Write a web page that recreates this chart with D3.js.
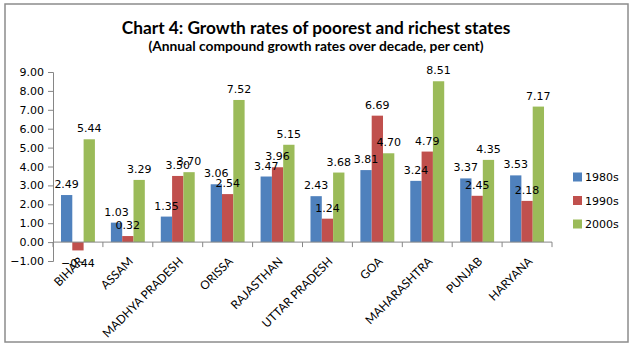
<!DOCTYPE html>
<html><head><meta charset="utf-8">
<script src="https://cdn.jsdelivr.net/npm/d3@7"></script>
<style>body{margin:0;background:#fff}svg{display:block}</style>
</head><body>
<script>
const categories = ["BIHAR","ASSAM","MADHYA PRADESH","ORISSA","RAJASTHAN","UTTAR PRADESH","GOA","MAHARASHTRA","PUNJAB","HARYANA"];
const seriesNames = ["1980s","1990s","2000s"];
const s1980 = [2.49,1.03,1.35,3.06,3.47,2.43,3.81,3.24,3.37,3.53];
const s1990 = [-0.44,0.32,3.50,2.54,3.96,1.24,6.69,4.79,2.45,2.18];
const s2000 = [5.44,3.29,3.70,7.52,5.15,3.68,4.70,8.51,4.35,7.17];
const yTicks = [-1,0,1,2,3,4,5,6,7,8,9];
const colors = ["#4F81BD","#C0504D","#9BBB59"];
const series = [s1980, s1990, s2000];

const W = 633, H = 347;
const svg = d3.select("body").append("svg").attr("width", W).attr("height", H);
svg.append("rect").attr("x",5).attr("y",4).attr("width",623).attr("height",338)
  .attr("fill","#fff").attr("stroke","#8c8c8c").attr("stroke-width",1.5);

svg.append("text").attr("x",316).attr("y",34).attr("text-anchor","middle")
  .attr("font-family","Lato").attr("font-weight","bold").attr("font-size",17.3)
  .text("Chart 4: Growth rates of poorest and richest states");
svg.append("text").attr("x",316).attr("y",51).attr("text-anchor","middle")
  .attr("font-family","Lato").attr("font-weight","bold").attr("font-size",13.8)
  .text("(Annual compound growth rates over decade, per cent)");

const x0 = d3.scaleBand().domain(categories).range([53,552]).paddingInner(0.32).paddingOuter(0.16);
const x1 = d3.scaleBand().domain(seriesNames).range([0, x0.bandwidth()]);
const y = d3.scaleLinear().domain([-1,9]).range([261,72]);

// y axis
const yAxis = d3.axisLeft(y).tickValues(yTicks).tickFormat(d3.format(".2f")).tickSize(5).tickPadding(4);
const gy = svg.append("g").attr("transform","translate(53,0)").call(yAxis);
gy.selectAll("path,line").attr("stroke","#868686");
gy.selectAll("text").attr("font-family","DejaVu Sans").attr("font-size",11).attr("fill","#000");

// bars
categories.forEach((c,i)=>{
  series.forEach((s,k)=>{
    const v = s[i];
    svg.append("rect").attr("x", x0(c)+x1(seriesNames[k])).attr("width", x1.bandwidth())
      .attr("y", y(Math.max(0,v))).attr("height", Math.abs(y(v)-y(0))).attr("fill", colors[k]);
  });
});

// x axis at zero
const full = d3.scaleBand().domain(categories).range([53,552]);
svg.append("line").attr("x1",53).attr("x2",552).attr("y1",y(0)).attr("y2",y(0)).attr("stroke","#868686");
categories.concat(["_end"]).forEach((c,i)=>{
  const xx = 53 + i*full.step();
  svg.append("line").attr("x1",xx).attr("x2",xx).attr("y1",y(0)).attr("y2",y(0)+5).attr("stroke","#868686");
});

// data labels
categories.forEach((c,i)=>{
  series.forEach((s,k)=>{
    const v = s[i];
    const cx = x0(c)+x1(seriesNames[k])+x1.bandwidth()/2;
    svg.append("text").attr("x",cx).attr("y", v>=0 ? y(v)-7 : y(v)+17)
      .attr("text-anchor","middle").attr("font-family","DejaVu Sans").attr("font-size",11)
      .text(d3.format(".2f")(v));
  });
});

// category labels
categories.forEach(c=>{
  const cx = full(c)+full.bandwidth()/2;
  svg.append("text").attr("transform",`translate(${cx+6},${y(0)+20}) rotate(-45)`)
    .attr("text-anchor","end").attr("font-family","Lato").attr("font-size",11.8)
    .text(c);
});

// legend
seriesNames.forEach((n,k)=>{
  const ly = 177 + k*23.5;
  svg.append("rect").attr("x",573).attr("y",ly-4.5).attr("width",9).attr("height",9).attr("fill",colors[k]);
  svg.append("text").attr("x",585).attr("y",ly+4).attr("font-family","DejaVu Sans").attr("font-size",11).text(n);
});
</script>
</body></html>
